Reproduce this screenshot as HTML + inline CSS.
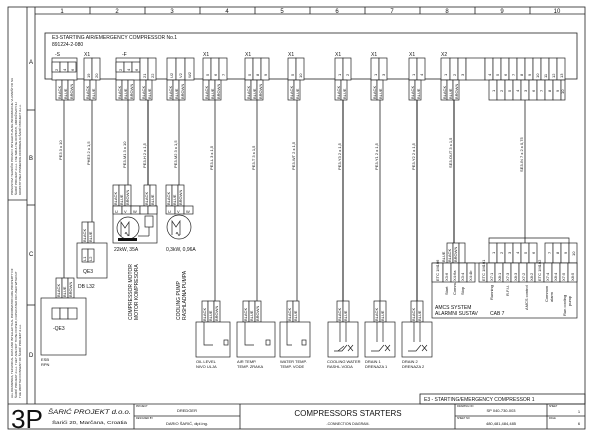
<!DOCTYPE html>
<html><head><meta charset="utf-8"><style>
html,body{margin:0;padding:0;background:#fff}
svg{display:block}
text{font-family:"Liberation Sans",sans-serif;fill:#111}
.s{font-size:4px}
.m{font-size:5px}
.l{font-size:6px}
</style></head><body>
<svg width="600" height="432" viewBox="0 0 600 432" xmlns="http://www.w3.org/2000/svg">
<g fill="none" stroke="#222" stroke-width="0.8">
<rect x="8" y="7" width="577" height="422"/>
<line x1="27" y1="7" x2="27" y2="404"/>
<line x1="35" y1="7" x2="35" y2="404"/>
<line x1="35" y1="14" x2="585" y2="14"/>
<line x1="27" y1="110" x2="35" y2="110"/><line x1="27" y1="205" x2="35" y2="205"/><line x1="27" y1="305" x2="35" y2="305"/>
<line x1="8" y1="200" x2="27" y2="200"/>
<line x1="8" y1="404" x2="585" y2="404"/>
<line x1="90" y1="7" x2="90" y2="14"/><line x1="145" y1="7" x2="145" y2="14"/><line x1="200" y1="7" x2="200" y2="14"/><line x1="255" y1="7" x2="255" y2="14"/><line x1="310" y1="7" x2="310" y2="14"/><line x1="365" y1="7" x2="365" y2="14"/><line x1="420" y1="7" x2="420" y2="14"/><line x1="475" y1="7" x2="475" y2="14"/><line x1="530" y1="7" x2="530" y2="14"/>
<rect x="45" y="33" width="532" height="46"/>
<rect x="420" y="394" width="165" height="10"/>
<line x1="134" y1="404" x2="134" y2="429"/><line x1="240" y1="404" x2="240" y2="429"/><line x1="455" y1="404" x2="455" y2="429"/><line x1="547" y1="404" x2="547" y2="429"/><line x1="134" y1="416" x2="240" y2="416"/><line x1="455" y1="416" x2="585" y2="416"/>
</g>
<g stroke="#222" stroke-width="0.8">
<line x1="64" y1="80" x2="64" y2="283"/>
<line x1="92" y1="80" x2="92" y2="228"/>
<line x1="128" y1="80" x2="128" y2="185"/>
<line x1="148" y1="80" x2="148" y2="185" stroke-width="1.1"/>
<line x1="179" y1="80" x2="179" y2="185"/>
<line x1="215" y1="80" x2="215" y2="308"/>
<line x1="257" y1="80" x2="257" y2="308"/>
<line x1="297" y1="80" x2="297" y2="308"/>
<line x1="343" y1="80" x2="343" y2="308" stroke-width="1.1"/>
<line x1="380" y1="80" x2="380" y2="308"/>
<line x1="417" y1="80" x2="417" y2="308" stroke-width="1.1"/>
<line x1="454" y1="80" x2="454" y2="243" stroke-width="1.1"/>
<line x1="525" y1="100" x2="525" y2="243"/>
</g>
<g fill="#fff" stroke="#222" stroke-width="0.7">
<rect x="52" y="58" width="25" height="22"/><rect x="52" y="62" width="8" height="10"/><rect x="60" y="62" width="8" height="10"/><rect x="68" y="62" width="8" height="10"/>
<rect x="84" y="58" width="8" height="22"/><rect x="92" y="58" width="8" height="22"/>
<rect x="116" y="58" width="24" height="22"/><rect x="116" y="62" width="8" height="10"/><rect x="124" y="62" width="8" height="10"/><rect x="132" y="62" width="8" height="10"/>
<rect x="140" y="58" width="8" height="22"/><rect x="148" y="58" width="8" height="22"/>
<rect x="167" y="58" width="9" height="22"/><rect x="176" y="58" width="9" height="22"/><rect x="185" y="58" width="9" height="22"/>
<rect x="203" y="58" width="8" height="22"/><rect x="211" y="58" width="8" height="22"/><rect x="219" y="58" width="8" height="22"/>
<rect x="245" y="58" width="8" height="22"/><rect x="253" y="58" width="8" height="22"/><rect x="261" y="58" width="8" height="22"/>
<rect x="288" y="58" width="8" height="22"/><rect x="296" y="58" width="8" height="22"/>
<rect x="335" y="58" width="8" height="22"/><rect x="343" y="58" width="8" height="22"/>
<rect x="371" y="58" width="8" height="22"/><rect x="379" y="58" width="8" height="22"/>
<rect x="409" y="58" width="8" height="22"/><rect x="417" y="58" width="8" height="22"/>
<rect x="441" y="58" width="9" height="22"/><rect x="450" y="58" width="8" height="22"/><rect x="458" y="58" width="8" height="22"/>
<rect x="466" y="58" width="19" height="22"/>
<rect x="485" y="58" width="8" height="22"/><rect x="493" y="58" width="8" height="22"/><rect x="501" y="58" width="8" height="22"/><rect x="509" y="58" width="8" height="22"/><rect x="517" y="58" width="8" height="22"/><rect x="525" y="58" width="8" height="22"/><rect x="533" y="58" width="8" height="22"/><rect x="541" y="58" width="8" height="22"/><rect x="549" y="58" width="8" height="22"/><rect x="557" y="58" width="8" height="22"/>
<rect x="56" y="80" width="6" height="20"/><rect x="62" y="80" width="6" height="20"/><rect x="68" y="80" width="6" height="20"/>
<rect x="84" y="80" width="6" height="20"/><rect x="90" y="80" width="6" height="20"/>
<rect x="116" y="80" width="6" height="20"/><rect x="122" y="80" width="6" height="20"/><rect x="128" y="80" width="6" height="20"/><rect x="140" y="80" width="6" height="20"/><rect x="146" y="80" width="6" height="20"/>
<rect x="167" y="80" width="6" height="20"/><rect x="173" y="80" width="6" height="20"/><rect x="179" y="80" width="6" height="20"/>
<rect x="203" y="80" width="6" height="20"/><rect x="209" y="80" width="6" height="20"/><rect x="215" y="80" width="6" height="20"/>
<rect x="245" y="80" width="6" height="20"/><rect x="251" y="80" width="6" height="20"/><rect x="257" y="80" width="6" height="20"/>
<rect x="288" y="80" width="6" height="20"/><rect x="294" y="80" width="6" height="20"/>
<rect x="335" y="80" width="6" height="20"/><rect x="341" y="80" width="6" height="20"/>
<rect x="371" y="80" width="6" height="20"/><rect x="377" y="80" width="6" height="20"/>
<rect x="409" y="80" width="6" height="20"/><rect x="415" y="80" width="6" height="20"/>
<rect x="441" y="80" width="6" height="20"/><rect x="447" y="80" width="6" height="20"/><rect x="453" y="80" width="6" height="20"/>
<rect x="489" y="80" width="8" height="20"/><rect x="497" y="80" width="8" height="20"/><rect x="505" y="80" width="8" height="20"/><rect x="513" y="80" width="8" height="20"/><rect x="521" y="80" width="8" height="20"/><rect x="529" y="80" width="8" height="20"/><rect x="537" y="80" width="8" height="20"/><rect x="545" y="80" width="8" height="20"/><rect x="553" y="80" width="8" height="20"/><rect x="561" y="80" width="4" height="20"/>
<rect x="113" y="185" width="6" height="21"/><rect x="119" y="185" width="6" height="21"/><rect x="125" y="185" width="6" height="21"/><rect x="144" y="185" width="6" height="21"/><rect x="150" y="185" width="6" height="21"/>
<rect x="113" y="206" width="44" height="37"/>
<rect x="113" y="206" width="9" height="8"/><rect x="122" y="206" width="9" height="8"/><rect x="131" y="206" width="9" height="8"/><rect x="140" y="206" width="8" height="8"/><rect x="148" y="206" width="9" height="8"/>
<circle cx="128" cy="228" r="11"/>
<rect x="145" y="216" width="8" height="11"/>
<rect x="166" y="185" width="6" height="21"/><rect x="172" y="185" width="6" height="21"/><rect x="178" y="185" width="6" height="21"/>
<rect x="166" y="206" width="9" height="8"/><rect x="175" y="206" width="9" height="8"/><rect x="184" y="206" width="9" height="8"/>
<circle cx="179" cy="227" r="12"/>
<rect x="82" y="222" width="6" height="21"/><rect x="88" y="222" width="6" height="21"/>
<rect x="77" y="243" width="30" height="35"/>
<rect x="82" y="249" width="6" height="13"/><rect x="88" y="249" width="6" height="13"/>
<rect x="56" y="278" width="6" height="20"/><rect x="62" y="278" width="6" height="20"/><rect x="68" y="278" width="6" height="20"/>
<rect x="41" y="298" width="45" height="57"/>
<rect x="52" y="308" width="8" height="11"/><rect x="60" y="308" width="8" height="11"/><rect x="68" y="308" width="9" height="11"/>
<rect x="202" y="301" width="6" height="21"/><rect x="208" y="301" width="6" height="21"/><rect x="214" y="301" width="6" height="21"/>
<rect x="196" y="322" width="34" height="35"/>
<rect x="243" y="301" width="6" height="21"/><rect x="249" y="301" width="6" height="21"/><rect x="255" y="301" width="6" height="21"/>
<rect x="237" y="322" width="38" height="35"/>
<rect x="287" y="301" width="6" height="21"/><rect x="293" y="301" width="6" height="21"/>
<rect x="280" y="322" width="30" height="35"/>
<rect x="337" y="301" width="6" height="21"/><rect x="343" y="301" width="6" height="21"/>
<rect x="328" y="322" width="30" height="35"/>
<rect x="374" y="301" width="6" height="21"/><rect x="380" y="301" width="6" height="21"/>
<rect x="365" y="322" width="30" height="35"/>
<rect x="411" y="301" width="6" height="21"/><rect x="417" y="301" width="6" height="21"/>
<rect x="402" y="322" width="30" height="35"/>
<rect x="447" y="243" width="6" height="20"/><rect x="453" y="243" width="6" height="20"/><rect x="459" y="243" width="6" height="20"/>
<rect x="489" y="243" width="8" height="20"/><rect x="497" y="243" width="8" height="20"/><rect x="505" y="243" width="8" height="20"/><rect x="513" y="243" width="8" height="20"/><rect x="521" y="243" width="8" height="20"/><rect x="529" y="243" width="8" height="20"/><rect x="545" y="243" width="8" height="20"/><rect x="553" y="243" width="8" height="20"/><rect x="561" y="243" width="8" height="20"/><rect x="569" y="243" width="8" height="20"/>
<rect x="432" y="263" width="145" height="55"/>
<rect x="432" y="263" width="11" height="19"/><rect x="443" y="263" width="8" height="19"/><rect x="451" y="263" width="8" height="19"/><rect x="459" y="263" width="8" height="19"/><rect x="467" y="263" width="8" height="19"/>
<rect x="479" y="263" width="8" height="19"/><rect x="487" y="263" width="8" height="19"/><rect x="495" y="263" width="8" height="19"/><rect x="503" y="263" width="8" height="19"/><rect x="511" y="263" width="8" height="19"/><rect x="519" y="263" width="8" height="19"/><rect x="527" y="263" width="8" height="19"/>
<rect x="535" y="263" width="9" height="19"/><rect x="544" y="263" width="8" height="19"/><rect x="552" y="263" width="8" height="19"/><rect x="560" y="263" width="8" height="19"/><rect x="568" y="263" width="9" height="19"/>
</g>
<g stroke="#222" stroke-width="0.7" fill="none">
<polyline points="489,243 489,238 569,238 569,243"/>
<path d="M121,236 v-14 l4,6 l4,-6 v14 M125,234 q1,-3 2,0 q1,3 2,0"/>
<path d="M172,235 v-14 l4,6 l4,-6 v14 M176,234 q1,-3 2,0 q1,3 2,0"/>
<line x1="149" y1="227" x2="149" y2="236"/><polyline points="149,236 138,236"/>
<polyline points="204,322 204,345 213,345 M212,345 l5,-5 M220,345 h3"/>
<rect x="224" y="340" width="4" height="5"/>
<polyline points="245,322 245,345 254,345 M253,345 l5,-5 M261,345 h4"/>
<rect x="266" y="340" width="4" height="5"/>
<polyline points="287,322 287,345 292,345 M292,345 l4,-5 M298,345 h4"/>
<rect x="302" y="340" width="4" height="5"/>
<path d="M334,351 h8 l5,-6 M348,345 l5,6 M348,351 l5,-6 M344,346 l-6,5"/>
<path d="M371,351 h8 l5,-6 M385,345 l5,6 M385,351 l5,-6"/>
<path d="M408,351 h8 l5,-6 M422,345 l5,6 M422,351 l5,-6"/>
<line x1="340" y1="322" x2="340" y2="342"/><line x1="346" y1="322" x2="346" y2="342"/>
<line x1="377" y1="322" x2="377" y2="342"/><line x1="383" y1="322" x2="383" y2="342"/>
<line x1="414" y1="322" x2="414" y2="342"/><line x1="420" y1="322" x2="420" y2="342"/>
</g>
<rect x="118" y="238" width="19" height="3" fill="#111"/>
<g class="l" text-anchor="middle">
<text x="62" y="13">1</text><text x="117" y="13">2</text><text x="172" y="13">3</text><text x="227" y="13">4</text><text x="282" y="13">5</text><text x="337" y="13">6</text><text x="392" y="13">7</text><text x="447" y="13">8</text><text x="502" y="13">9</text><text x="557" y="13">10</text>
</g>
<g class="l"><text x="29" y="64">A</text><text x="29" y="160">B</text><text x="29" y="256">C</text><text x="29" y="357">D</text></g>
<text class="m" x="52" y="39">E3-STARTING AIR/EMERGENCY COMPRESSOR No.1</text>
<text class="m" x="52" y="46">891224-2-080</text>
<g class="m">
<text x="55" y="56">-S</text><text x="84" y="56">X1</text><text x="122" y="56">-F</text><text x="203" y="56">X1</text><text x="245" y="56">X1</text><text x="288" y="56">X1</text><text x="335" y="56">X1</text><text x="371" y="56">X1</text><text x="409" y="56">X1</text><text x="441" y="56">X2</text>
</g>
<g class="s">
<text transform="translate(58,71) rotate(-90)">2</text><text transform="translate(66,71) rotate(-90)">4</text><text transform="translate(74,71) rotate(-90)">6</text>
<text transform="translate(90,78) rotate(-90)">19</text><text transform="translate(98,78) rotate(-90)">20</text>
<text transform="translate(122,71) rotate(-90)">2</text><text transform="translate(130,71) rotate(-90)">4</text><text transform="translate(138,71) rotate(-90)">6</text>
<text transform="translate(146,78) rotate(-90)">21</text><text transform="translate(154,78) rotate(-90)">22</text>
<text transform="translate(173,78) rotate(-90)">U2</text><text transform="translate(182,78) rotate(-90)">V2</text><text transform="translate(191,78) rotate(-90)">W2</text>
<text transform="translate(209,76) rotate(-90)">5</text><text transform="translate(217,76) rotate(-90)">6</text><text transform="translate(225,76) rotate(-90)">7</text>
<text transform="translate(251,76) rotate(-90)">5</text><text transform="translate(259,76) rotate(-90)">8</text><text transform="translate(267,76) rotate(-90)">9</text>
<text transform="translate(294,76) rotate(-90)">5</text><text transform="translate(302,78) rotate(-90)">10</text>
<text transform="translate(341,76) rotate(-90)">1</text><text transform="translate(349,76) rotate(-90)">2</text>
<text transform="translate(377,76) rotate(-90)">1</text><text transform="translate(385,76) rotate(-90)">3</text>
<text transform="translate(415,76) rotate(-90)">1</text><text transform="translate(423,76) rotate(-90)">4</text>
<text transform="translate(447,76) rotate(-90)">1</text><text transform="translate(456,76) rotate(-90)">2</text><text transform="translate(464,76) rotate(-90)">3</text>
<text transform="translate(491,76) rotate(-90)">4</text><text transform="translate(499,76) rotate(-90)">5</text><text transform="translate(507,76) rotate(-90)">6</text><text transform="translate(515,76) rotate(-90)">7</text><text transform="translate(523,76) rotate(-90)">8</text><text transform="translate(531,76) rotate(-90)">9</text><text transform="translate(539,78) rotate(-90)">10</text><text transform="translate(547,78) rotate(-90)">11</text><text transform="translate(555,78) rotate(-90)">12</text><text transform="translate(563,78) rotate(-90)">13</text>
<text transform="translate(495,92) rotate(-90)">1</text><text transform="translate(503,92) rotate(-90)">2</text><text transform="translate(511,92) rotate(-90)">5</text><text transform="translate(519,92) rotate(-90)">4</text><text transform="translate(527,92) rotate(-90)">3</text><text transform="translate(535,92) rotate(-90)">6</text><text transform="translate(543,92) rotate(-90)">7</text><text transform="translate(551,92) rotate(-90)">8</text><text transform="translate(559,92) rotate(-90)">9</text><text transform="translate(564,94) rotate(-90)">10</text>
<text transform="translate(61,99) rotate(-90)">BLACK</text><text transform="translate(67,99) rotate(-90)">BLUE</text><text transform="translate(73,99) rotate(-90)">BROWN</text>
<text transform="translate(89,99) rotate(-90)">BLACK</text><text transform="translate(95,99) rotate(-90)">BLUE</text>
<text transform="translate(121,99) rotate(-90)">BLACK</text><text transform="translate(127,99) rotate(-90)">BLUE</text><text transform="translate(133,99) rotate(-90)">BROWN</text><text transform="translate(145,99) rotate(-90)">BLACK</text><text transform="translate(151,99) rotate(-90)">BLUE</text>
<text transform="translate(172,99) rotate(-90)">BLACK</text><text transform="translate(178,99) rotate(-90)">BLUE</text><text transform="translate(184,99) rotate(-90)">BROWN</text>
<text transform="translate(208,99) rotate(-90)">BLACK</text><text transform="translate(214,99) rotate(-90)">BLUE</text><text transform="translate(220,99) rotate(-90)">BROWN</text>
<text transform="translate(250,99) rotate(-90)">BLACK</text><text transform="translate(256,99) rotate(-90)">BLUE</text><text transform="translate(262,99) rotate(-90)">BROWN</text>
<text transform="translate(293,99) rotate(-90)">BLACK</text><text transform="translate(299,99) rotate(-90)">BLUE</text>
<text transform="translate(340,99) rotate(-90)">BLACK</text><text transform="translate(346,99) rotate(-90)">BLUE</text>
<text transform="translate(376,99) rotate(-90)">BLACK</text><text transform="translate(382,99) rotate(-90)">BLUE</text>
<text transform="translate(414,99) rotate(-90)">BLACK</text><text transform="translate(420,99) rotate(-90)">BLUE</text>
<text transform="translate(446,99) rotate(-90)">BLACK</text><text transform="translate(452,99) rotate(-90)">BLUE</text><text transform="translate(458,99) rotate(-90)">BROWN</text>
<text transform="translate(62,160) rotate(-90)">PE3  3 x 10</text>
<text transform="translate(90,165) rotate(-90)">PHE3  2 x 1,5</text>
<text transform="translate(126,168) rotate(-90)">PE3-M1  3 x 10</text>
<text transform="translate(146,168) rotate(-90)">PE3-H  2 x 1,5</text>
<text transform="translate(177,168) rotate(-90)">PE3-M2  3 x 1,5</text>
<text transform="translate(213,170) rotate(-90)">PE3-L  3 x 1,5</text>
<text transform="translate(255,170) rotate(-90)">PE3-T  3 x 1,5</text>
<text transform="translate(295,170) rotate(-90)">PE3-WT  2 x 1,5</text>
<text transform="translate(341,170) rotate(-90)">PE3-Y3  2 x 1,5</text>
<text transform="translate(378,170) rotate(-90)">PE3-Y1  2 x 1,5</text>
<text transform="translate(415,170) rotate(-90)">PE3-Y2  2 x 1,5</text>
<text transform="translate(452,168) rotate(-90)">SE3-OUT  3 x 1,5</text>
<text transform="translate(523,172) rotate(-90)">SE3-IN  7 x 2 x 0,75</text>
<text transform="translate(117,205) rotate(-90)">BLACK</text><text transform="translate(123,205) rotate(-90)">BLUE</text><text transform="translate(129,205) rotate(-90)">BROWN</text><text transform="translate(148,205) rotate(-90)">BLACK</text><text transform="translate(154,205) rotate(-90)">BLUE</text>
<text transform="translate(170,205) rotate(-90)">BLACK</text><text transform="translate(176,205) rotate(-90)">BLUE</text><text transform="translate(182,205) rotate(-90)">BROWN</text>
<text x="115" y="213">U</text><text x="124" y="213">V</text><text x="133" y="213">W</text><text x="168" y="213">U</text><text x="177" y="213">V</text><text x="186" y="213">W</text>
<text transform="translate(86,242) rotate(-90)">BLACK</text><text transform="translate(92,242) rotate(-90)">BLUE</text>
<text transform="translate(86,261) rotate(-90)">L1</text><text transform="translate(92,261) rotate(-90)">L2</text>
<text transform="translate(60,297) rotate(-90)">BLACK</text><text transform="translate(66,297) rotate(-90)">BLUE</text><text transform="translate(72,297) rotate(-90)">BROWN</text>
<text transform="translate(206,321) rotate(-90)">BLACK</text><text transform="translate(212,321) rotate(-90)">BLUE</text><text transform="translate(218,321) rotate(-90)">BROWN</text>
<text transform="translate(247,321) rotate(-90)">BLACK</text><text transform="translate(253,321) rotate(-90)">BLUE</text><text transform="translate(259,321) rotate(-90)">BROWN</text>
<text transform="translate(291,321) rotate(-90)">BLACK</text><text transform="translate(297,321) rotate(-90)">BLUE</text>
<text transform="translate(341,321) rotate(-90)">BLACK</text><text transform="translate(347,321) rotate(-90)">BLUE</text>
<text transform="translate(378,321) rotate(-90)">BLACK</text><text transform="translate(384,321) rotate(-90)">BLUE</text>
<text transform="translate(415,321) rotate(-90)">BLACK</text><text transform="translate(421,321) rotate(-90)">BLUE</text>
<text transform="translate(445,262) rotate(-90)">BLUE</text><text transform="translate(451,262) rotate(-90)">BLACK</text><text transform="translate(457,262) rotate(-90)">BROWN</text>
<text transform="translate(495,254) rotate(-90)">1</text><text transform="translate(503,254) rotate(-90)">2</text><text transform="translate(511,254) rotate(-90)">3</text><text transform="translate(519,254) rotate(-90)">4</text><text transform="translate(527,254) rotate(-90)">5</text><text transform="translate(535,254) rotate(-90)">6</text><text transform="translate(551,254) rotate(-90)">7</text><text transform="translate(559,254) rotate(-90)">8</text><text transform="translate(567,254) rotate(-90)">9</text><text transform="translate(575,256) rotate(-90)">10</text>
<text transform="translate(439,281) rotate(-90)">ETC 1M106</text><text transform="translate(448,281) rotate(-90)">X3:6</text><text transform="translate(456,281) rotate(-90)">X4:6a</text><text transform="translate(464,281) rotate(-90)">X3:4</text><text transform="translate(472,281) rotate(-90)">X4:4b</text>
<text transform="translate(448,295) rotate(-90)">Start</text><text transform="translate(456,295) rotate(-90)">Comm.</text><text transform="translate(464,295) rotate(-90)">Stop</text>
<text transform="translate(485,281) rotate(-90)">ETC 1M101</text><text transform="translate(493,281) rotate(-90)">X7:1</text><text transform="translate(501,281) rotate(-90)">X8:1</text><text transform="translate(509,281) rotate(-90)">X7:3</text><text transform="translate(517,281) rotate(-90)">X8:3</text><text transform="translate(525,281) rotate(-90)">X7:2</text><text transform="translate(533,281) rotate(-90)">X8:2</text>
<text transform="translate(493,300) rotate(-90)">Running</text><text transform="translate(509,296) rotate(-90)">R.F.U.</text><text transform="translate(528,310) rotate(-90)">AMCS control</text>
<text transform="translate(541,281) rotate(-90)">ETC 1M102</text><text transform="translate(549,281) rotate(-90)">X7:4</text><text transform="translate(557,281) rotate(-90)">X8:4</text><text transform="translate(565,281) rotate(-90)">X7:5</text><text transform="translate(574,281) rotate(-90)">X8:5</text>
<text transform="translate(548,302) rotate(-90)">Common</text><text transform="translate(553,302) rotate(-90)">alarm</text><text transform="translate(566,316) rotate(-90)">Run cooling</text><text transform="translate(571,306) rotate(-90)">pump</text>
</g>
<g class="m">
<text x="435" y="309">AMCS SYSTEM</text><text x="435" y="315">ALARMNI SUSTAV</text><text x="490" y="315">CAB 7</text>
<text x="114" y="251">22kW, 35A</text><text x="166" y="251">0,3kW, 0,96A</text>
<text x="83" y="273">QE3</text><text x="78" y="288">DB L32</text>
<text x="53" y="330">-QE3</text>
<text x="41" y="361" class="s">ESB</text><text x="41" y="366" class="s">RPN</text>
<text transform="translate(132,320) rotate(-90)">COMPRESSOR MOTOR</text><text transform="translate(138,320) rotate(-90)">MOTOR KOMPRESORA</text>
<text transform="translate(180,320) rotate(-90)">COOLING PUMP</text><text transform="translate(186,320) rotate(-90)">RASHLADNA PUMPA</text>
</g>
<g class="s">
<text x="196" y="363">OIL LEVEL</text><text x="196" y="368">NIVO ULJA</text>
<text x="237" y="363">AIR TEMP.</text><text x="237" y="368">TEMP. ZRAKA</text>
<text x="280" y="363">WATER TEMP.</text><text x="280" y="368">TEMP. VODE</text>
<text x="327" y="363">COOLING WATER</text><text x="327" y="368">RASHL.VODA</text>
<text x="365" y="363">DRAIN 1</text><text x="365" y="368">DRENAZA 1</text>
<text x="402" y="363">DRAIN 2</text><text x="402" y="368">DRENAZA 2</text>
</g>
<text class="m" x="424" y="401">E3 - STARTING/EMERGENCY COMPRESSOR 1</text>
<g style="font-size:3px">
<text transform="translate(13,195) rotate(-90)">PRISUSTAVI TEHNIČKI PODACI I INTELEKTUALNE INFORMACIJE VLASNIŠTVO SU</text>
<text transform="translate(17,195) rotate(-90)">ŠARIĆ PROJEKT d.o.o. I NE SMIJU SE KOPIRATI, UMNOŽAVATI ILI</text>
<text transform="translate(21,195) rotate(-90)">KORISTITI BEZ PISMENOG ODOBRENJA ŠARIĆ PROJEKT d.o.o.</text>
<text transform="translate(13,398) rotate(-90)">ALL DRAWINGS, TECHNICAL DATA AND INTELLECTUAL INFORMATION ARE PROPERTY OF</text>
<text transform="translate(17,398) rotate(-90)">ŠARIĆ PROJEKT d.o.o. THEY ARE NOT TO BE COPIED, DUPLICATED OR USED WITHOUT</text>
<text transform="translate(21,398) rotate(-90)">THE WRITTEN CONSENT OF ŠARIĆ PROJEKT d.o.o.</text>
</g>
<text x="11" y="428" style="font-size:26px" textLength="32" lengthAdjust="spacingAndGlyphs">3P</text>
<text x="48" y="414" style="font-size:6px;font-style:italic" textLength="83" lengthAdjust="spacingAndGlyphs">ŠARIĆ PROJEKT d.o.o.</text>
<text x="52" y="424" style="font-size:4.5px" textLength="75" lengthAdjust="spacingAndGlyphs">Šarići 20, Marčana, Croatia</text>
<g style="font-size:2.5px"><text x="136" y="407">PROJECT</text><text x="136" y="419">DESIGNED BY</text><text x="457" y="407">DRAWING NO</text><text x="457" y="419">SHEET NO</text><text x="549" y="407">SHEET</text><text x="549" y="419">PAGE</text></g>
<g class="s" text-anchor="middle">
<text x="187" y="412">DREDGER</text><text x="187" y="425">DARIO ŠARIĆ, dipl.ing.</text>
<text x="348" y="416" style="font-size:8px">COMPRESSORS STARTERS</text>
<text x="348" y="425" style="font-size:3.5px">-CONNECTION DIAGRAM-</text>
<text x="501" y="412">SP 040-730-003</text><text x="501" y="425">480,481,484,485</text>
<text x="579" y="413">1</text><text x="579" y="425">6</text>
</g>
</svg>
</body></html>
